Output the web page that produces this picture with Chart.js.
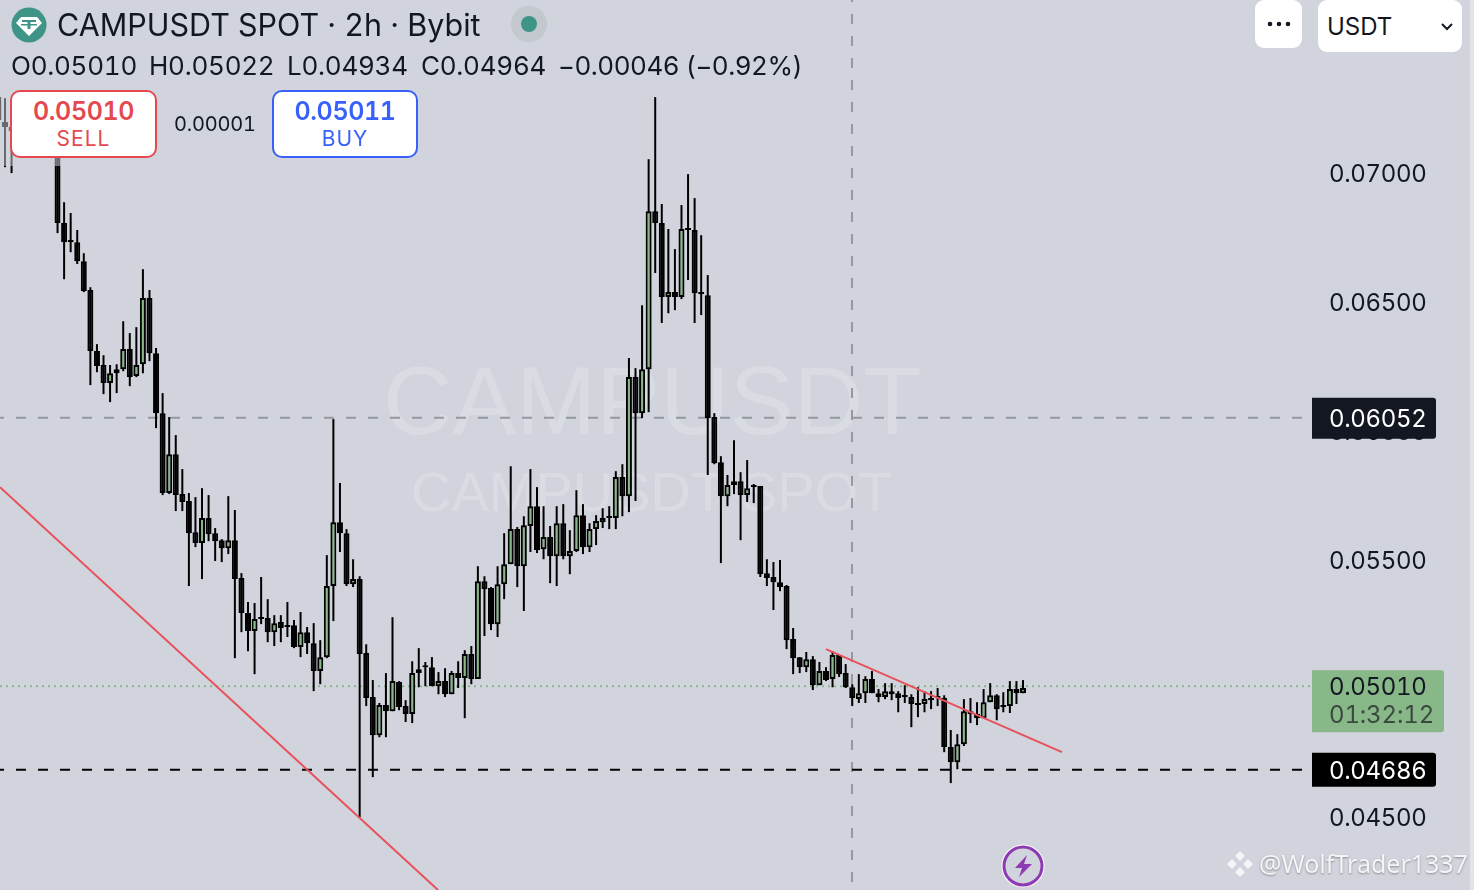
<!DOCTYPE html>
<html lang="en">
<head>
    <meta charset="UTF-8">
    <title>CAMPUSDT SPOT 2h</title>
    <script src="https://cdn.jsdelivr.net/npm/chart.js"></script>
    <style>
        html, body { margin: 0; padding: 0; background: #d1d4dc; overflow: hidden; }
        body { width: 1474px; height: 890px; position: relative; font-family: Inter, "Noto Sans", sans-serif; color: #131722; font-feature-settings: "tnum"; }
        #priceChart { position: absolute; left: 0; top: 0; }
        .abs { position: absolute; white-space: nowrap; }
        .wm { font-family: "Liberation Sans", sans-serif; color: rgba(255,255,255,0.2); }
        .trade { background: #fff; border: 2px solid; border-radius: 10px; box-sizing: border-box; text-align: center; height: 68px; top: 90px; }
        .trade .p { font-size: 25px; font-weight: 600; line-height: 26px; margin-top: 6px; letter-spacing: -0.4px; }
        .trade .s { font-size: 21px; line-height: 26px; margin-top: 2px; letter-spacing: 1px; }
        .btn { background: #fff; border-radius: 9px; }
        .ohlc { top: 49px; font-size: 26px; line-height: 34px; letter-spacing: -0.25px; }
    </style>
</head>
<body>
    <div class="abs wm" style="left:383px;top:346px;font-size:96px;line-height:110px;">CAMPUSDT</div>
    <div class="abs wm" style="left:411px;top:460px;font-size:56px;line-height:64px;">CAMPUSDT SPOT</div>

    <canvas id="priceChart" width="1474" height="890"></canvas>

    <!-- header veil, candles under it look grey -->
    <div class="abs" style="left:0;top:0;width:420px;height:166px;background:rgba(209,212,220,0.5);"></div>

    <svg class="abs" style="left:11px;top:7px;" width="36" height="36" viewBox="0 0 36 36">
        <circle cx="18" cy="18" r="17.5" fill="#3f9488"/>
        <path d="M10 10 H26 L31 16 L18 29 L5 16 Z" fill="#fff"/>
        <path d="M11 13 H25 V15 H19.5 V22 H16.5 V15 H11 Z M10 17 H26 V18.5 H10 Z" fill="#3f9488"/>
    </svg>
    <div class="abs" style="left:57px;top:6px;font-size:30.5px;line-height:38px;">CAMPUSDT SPOT · 2h · Bybit</div>
    <svg class="abs" style="left:511px;top:6px;" width="36" height="36" viewBox="0 0 36 36">
        <circle cx="18" cy="18" r="18" fill="#c3c8cf"/>
        <circle cx="18" cy="18" r="8" fill="#3f9488"/>
    </svg>
    <div class="abs ohlc" style="left:11px;">O0.05010</div>
    <div class="abs ohlc" style="left:149px;">H0.05022</div>
    <div class="abs ohlc" style="left:287px;">L0.04934</div>
    <div class="abs ohlc" style="left:421px;">C0.04964</div>
    <div class="abs ohlc" style="left:558px;letter-spacing:-0.47px;">−0.00046 (−0.92%)</div>

    <div class="abs trade" style="left:10px;width:147px;border-color:#e5484f;color:#e5484f;">
        <div class="p">0.05010</div><div class="s">SELL</div>
    </div>
    <div class="abs" style="left:174px;top:110px;font-size:20px;line-height:28px;letter-spacing:-0.2px;">0.00001</div>
    <div class="abs trade" style="left:272px;width:146px;border-color:#3861fb;color:#3861fb;">
        <div class="p">0.05011</div><div class="s">BUY</div>
    </div>

    <div class="abs btn" style="left:1255px;top:0;width:47px;height:48px;text-align:center;">
        <svg width="47" height="48"><circle cx="15" cy="24" r="2.3" fill="#131722"/><circle cx="24" cy="24" r="2.3" fill="#131722"/><circle cx="33" cy="24" r="2.3" fill="#131722"/></svg>
    </div>
    <div class="abs btn" style="left:1318px;top:0;width:144px;height:52px;">
        <div class="abs" style="left:9px;top:11px;font-size:24px;line-height:32px;">USDT</div>
        <svg class="abs" style="left:122px;top:21px;" width="14" height="12"><path d="M2 3 L7 8 L12 3" fill="none" stroke="#131722" stroke-width="2"/></svg>
    </div>

    <svg class="abs" style="left:1001px;top:844px;" width="44" height="44" viewBox="0 0 44 44">
        <circle cx="22" cy="22" r="21.5" fill="#fff"/>
        <circle cx="22" cy="22" r="19" fill="#d1d4dc" stroke="#8e3bb3" stroke-width="3"/>
        <path d="M26 11 L14 24 H21 L18 33 L31 20 H23 Z" fill="#8e3bb3"/>
    </svg>
    <svg class="abs" style="left:1226px;top:850px;" width="28" height="28" viewBox="0 0 28 28" fill="#f4f5f7">
        <path d="M14 1 L19 6 L14 11 L9 6 Z M6 9 L11 14 L6 19 L1 14 Z M22 9 L27 14 L22 19 L17 14 Z M14 17 L19 22 L14 27 L9 22 Z"/>
    </svg>
    <div class="abs" style="left:1259px;top:846px;font-family:'Noto Sans',sans-serif;font-size:25px;line-height:34px;color:#f4f5f7;text-shadow:0 1px 2px rgba(90,90,90,.6);">@WolfTrader1337</div>

    <div class="abs" style="left:1470px;top:0;width:4px;height:890px;background:#e2e4e9;"></div>

    <script>
        // candles, oldest first
        const opens = [
            0.07297,0.07200,0.07181,0.07177,0.07169,0.07157,0.07138,0.07126,0.07115,0.07091,
            0.06808,0.06742,0.06734,0.06660,0.06548,0.06311,0.06257,0.06187,0.06241,0.06241,
            0.06319,0.06214,0.06260,0.06517,0.06303,0.06070,0.05760,0.05911,0.05756,0.05729,
            0.05608,0.05566,0.05663,0.05604,0.05577,0.05546,0.05577,0.05430,0.05294,0.05224,
            0.05278,0.05275,0.05220,0.05259,0.05247,0.05247,0.05162,0.05220,0.05177,0.05069,
            0.05123,0.05399,0.05647,0.05604,0.05406,0.05426,0.05139,0.04968,0.04820,0.04937,
            0.04913,0.05026,0.04933,0.04902,0.05061,0.05088,0.05084,0.05010,0.05030,0.04979,
            0.05061,0.05042,0.05135,0.05038,0.05418,0.05391,0.05251,0.05406,0.05484,0.05620,
            0.05476,0.05632,0.05709,0.05542,0.05589,0.05515,0.05643,0.05515,0.05535,0.05674,
            0.05550,0.05620,0.05647,0.05670,0.05663,0.05822,0.05748,0.06210,0.06070,0.06241,
            0.06854,0.06808,0.06521,0.06540,0.06521,0.06789,0.06781,0.06540,0.06528,0.06055,
            0.05880,0.05748,0.05806,0.05806,0.05752,0.05791,0.05787,0.05449,0.05434,0.05414,
            0.05399,0.05193,0.05123,0.05084,0.05115,0.05014,0.05069,0.05038,0.05131,0.05061,
            0.05006,0.04960,0.04983,0.05038,0.04983,0.04968,0.04991,0.04983,0.04975,0.04968,
            0.04945,0.04941,0.04964,0.04968,0.04964,0.04774,0.04715,0.04785,0.04913,0.04902,
            0.04886,0.04948,0.04975,0.04937,0.04933,0.04999,0.04983
        ];
        const closes = [
            0.07208,0.07181,0.07165,0.07161,0.07146,0.07130,0.07118,0.07107,0.07091,0.06808,
            0.06734,0.06734,0.06660,0.06544,0.06311,0.06253,0.06187,0.06225,0.06225,0.06319,
            0.06210,0.06257,0.06517,0.06303,0.06070,0.05760,0.05911,0.05752,0.05725,0.05604,
            0.05566,0.05663,0.05600,0.05573,0.05546,0.05577,0.05426,0.05294,0.05224,0.05271,
            0.05271,0.05220,0.05255,0.05236,0.05240,0.05162,0.05220,0.05177,0.05069,0.05123,
            0.05399,0.05647,0.05604,0.05406,0.05426,0.05135,0.04964,0.04820,0.04937,0.04913,
            0.05030,0.04929,0.04902,0.05061,0.05076,0.05084,0.05010,0.05030,0.04979,0.05061,
            0.05042,0.05135,0.05038,0.05418,0.05387,0.05251,0.05406,0.05484,0.05620,0.05476,
            0.05635,0.05709,0.05538,0.05589,0.05515,0.05643,0.05515,0.05535,0.05674,0.05550,
            0.05620,0.05651,0.05663,0.05663,0.05822,0.05748,0.06210,0.06070,0.06241,0.06854,
            0.06808,0.06521,0.06540,0.06521,0.06785,0.06781,0.06536,0.06532,0.06051,0.05876,
            0.05748,0.05791,0.05791,0.05752,0.05779,0.05783,0.05445,0.05430,0.05414,0.05395,
            0.05189,0.05119,0.05084,0.05115,0.05014,0.05069,0.05034,0.05131,0.05057,0.05006,
            0.04964,0.04983,0.05038,0.04983,0.04968,0.04991,0.04979,0.04964,0.04968,0.04941,
            0.04937,0.04960,0.04956,0.04964,0.04774,0.04715,0.04785,0.04913,0.04902,0.04886,
            0.04948,0.04975,0.04921,0.04929,0.04999,0.04983,0.05003
        ];
        const highs = [
            0.07305,0.07293,0.07188,0.07266,0.07227,0.07215,0.07200,0.07188,0.07169,0.07107,
            0.06889,0.06847,0.06781,0.06691,0.06559,0.06338,0.06295,0.06257,0.06260,0.06427,
            0.06381,0.06404,0.06629,0.06548,0.06323,0.06148,0.06055,0.05985,0.05853,0.05760,
            0.05744,0.05779,0.05752,0.05624,0.05581,0.05748,0.05694,0.05449,0.05337,0.05333,
            0.05434,0.05348,0.05286,0.05286,0.05337,0.05267,0.05298,0.05240,0.05255,0.05189,
            0.05519,0.06047,0.05799,0.05620,0.05503,0.05437,0.05173,0.05034,0.04945,0.05061,
            0.05278,0.05030,0.04956,0.05107,0.05158,0.05104,0.05123,0.05065,0.05080,0.05069,
            0.05107,0.05150,0.05166,0.05476,0.05437,0.05395,0.05476,0.05604,0.05864,0.05628,
            0.05670,0.05853,0.05783,0.05709,0.05632,0.05709,0.05717,0.05616,0.05771,0.05717,
            0.05643,0.05674,0.05701,0.05709,0.05845,0.05872,0.06284,0.06245,0.06489,0.07056,
            0.07297,0.06882,0.06785,0.06707,0.06878,0.06998,0.06905,0.06761,0.06606,0.06070,
            0.05903,0.05830,0.05965,0.05841,0.05888,0.05795,0.05787,0.05503,0.05492,0.05500,
            0.05403,0.05236,0.05123,0.05143,0.05127,0.05104,0.05084,0.05146,0.05131,0.05096,
            0.05018,0.05057,0.05049,0.05069,0.04999,0.05022,0.05022,0.04991,0.05014,0.04979,
            0.05006,0.04991,0.04991,0.05003,0.04975,0.04840,0.04824,0.04960,0.04964,0.04948,
            0.04999,0.05022,0.04979,0.04987,0.05030,0.05030,0.05034
        ];
        const lows = [
            0.07200,0.07025,0.07002,0.07150,0.07130,0.07111,0.07099,0.07091,0.07083,0.06769,
            0.06590,0.06695,0.06649,0.06540,0.06179,0.06229,0.06144,0.06113,0.06148,0.06233,
            0.06175,0.06210,0.06225,0.06272,0.06012,0.05752,0.05756,0.05690,0.05690,0.05399,
            0.05550,0.05426,0.05573,0.05496,0.05492,0.05523,0.05119,0.05220,0.05146,0.05057,
            0.05251,0.05181,0.05166,0.05181,0.05201,0.05158,0.05123,0.05135,0.04991,0.05018,
            0.05119,0.05263,0.05531,0.05399,0.05395,0.04502,0.04933,0.04657,0.04812,0.04812,
            0.04913,0.04917,0.04871,0.04867,0.05006,0.05010,0.05010,0.04979,0.04968,0.04979,
            0.05003,0.04886,0.05018,0.05038,0.05205,0.05228,0.05201,0.05348,0.05484,0.05395,
            0.05302,0.05531,0.05527,0.05503,0.05410,0.05399,0.05503,0.05445,0.05531,0.05523,
            0.05531,0.05558,0.05624,0.05620,0.05620,0.05670,0.05686,0.05729,0.06051,0.06074,
            0.06614,0.06420,0.06458,0.06470,0.06513,0.06587,0.06420,0.06451,0.05830,0.05872,
            0.05488,0.05709,0.05756,0.05577,0.05725,0.05721,0.05434,0.05399,0.05306,0.05379,
            0.05154,0.05057,0.05061,0.05065,0.04995,0.05014,0.05030,0.05006,0.05046,0.05003,
            0.04933,0.04945,0.04945,0.04983,0.04948,0.04960,0.04956,0.04909,0.04945,0.04851,
            0.04890,0.04909,0.04921,0.04933,0.04754,0.04634,0.04688,0.04778,0.04867,0.04859,
            0.04886,0.04948,0.04878,0.04909,0.04906,0.04941,0.04983
        ];

        const priceTicks = [0.045, 0.05, 0.055, 0.06, 0.065, 0.07];
        const lastPrice = 0.0501;
        const maPrice = 0.06052;
        const lowPrice = 0.04686;
        // drawn lines, [bar index, price] at both ends
        const trendLong = [[0.24, 0.05783], [66.93, 0.04219]];
        const trendShort = [[126.0, 0.05154], [161.93, 0.04754]];
        const crosshairBar = 129.96;

        const UP = '#89b888', BLACK = '#000000';
        const XMIN = 0.24, XMAX = 200, YMIN = 0.04219, YMAX = 0.07674;

        const wicks = opens.map((_, i) => ({ x: i, y: [lows[i], highs[i]] }));
        const bodies = opens.map((o, i) => ({ x: i, y: [o, closes[i]] }));
        const bodyColors = opens.map((o, i) => closes[i] > o ? UP : BLACK);

        function hline(price, color, dash, offset, endBar) {
            return {
                type: 'line', order: 5, data: [{ x: XMIN, y: price }, { x: endBar, y: price }],
                borderColor: color, borderWidth: 2, borderDash: dash, borderDashOffset: offset,
                pointRadius: 0, tension: 0
            };
        }
        function segment(pts) {
            return {
                type: 'line', order: 1, data: pts.map(p => ({ x: p[0], y: p[1] })),
                borderColor: '#e8505b', borderWidth: 2, pointRadius: 0, tension: 0
            };
        }

        // price tags on the axis
        const tagsPlugin = {
            id: 'tags',
            beforeDraw(chart) {
                chart.ctx.letterSpacing = '-0.35px';
                // nudge tick text down, Inter sits a bit high
                chart.scales.y.getLabelItems().forEach(item => { item.options.translation[1] += 1.5; });
            },
            afterDraw(chart) {
                const ctx = chart.ctx, y = chart.scales.y;
                const tag = (price, up, down, w, bg) => {
                    const c = y.getPixelForValue(price);
                    ctx.fillStyle = bg;
                    ctx.beginPath();
                    ctx.roundRect(1312, c - up, w, up + down, [0, 3, 3, 0]);
                    ctx.fill();
                };
                ctx.save();
                ctx.font = '24px Inter';
                ctx.letterSpacing = '-0.35px';
                ctx.textBaseline = 'middle';
                ctx.textAlign = 'left';
                tag(maPrice, 20, 21, 124, '#131722');
                ctx.fillStyle = '#fff';
                ctx.fillText(maPrice.toFixed(5), 1329, y.getPixelForValue(maPrice) + 2);
                tag(lowPrice, 17, 17, 124, '#000');
                ctx.fillStyle = '#fff';
                ctx.fillText(lowPrice.toFixed(5), 1329, y.getPixelForValue(lowPrice) + 2);
                tag(lastPrice, 16, 46, 132, UP);
                ctx.fillStyle = '#131722';
                ctx.fillText(lastPrice.toFixed(5), 1329, y.getPixelForValue(lastPrice) + 2);
                ctx.letterSpacing = '-0.15px';
                ctx.fillStyle = '#3a4a3e';
                ctx.fillText('01:32:12', 1329, y.getPixelForValue(lastPrice) + 30);
                ctx.restore();
            }
        };

        new Chart(document.getElementById('priceChart').getContext('2d'), {
            type: 'bar',
            data: {
                datasets: [
                    hline(maPrice, '#9598a1', [10, 12], 6, 198.93),
                    hline(lowPrice, '#000', [10, 12], 6, 198.5),
                    hline(lastPrice, UP, [2, 4], 0, XMAX),
                    {
                        type: 'line', order: 5,
                        data: [{ x: crosshairBar, y: YMAX }, { x: crosshairBar, y: 0.0425 }],
                        borderColor: '#9598a1', borderWidth: 2, borderDash: [10, 12], borderDashOffset: 8,
                        pointRadius: 0
                    },
                    { order: 3, data: wicks, backgroundColor: BLACK, barThickness: 2, inflateAmount: 0 },
                    {
                        order: 2, data: bodies, backgroundColor: bodyColors, borderColor: BLACK,
                        borderWidth: 2, borderSkipped: false, barThickness: 6, minBarLength: 2, inflateAmount: 0
                    },
                    segment(trendLong),
                    segment(trendShort)
                ]
            },
            options: {
                responsive: false,
                animation: false,
                events: [],
                layout: { padding: 0, autoPadding: false },
                datasets: { bar: { grouped: false } },
                plugins: { legend: { display: false }, tooltip: { enabled: false } },
                scales: {
                    x: { type: 'linear', min: XMIN, max: XMAX, offset: false, display: false },
                    y: {
                        type: 'linear', position: 'right', min: YMIN, max: YMAX,
                        grid: { display: false, drawTicks: false },
                        border: { display: false },
                        afterFit(axis) { axis.width = 162; axis.paddingTop = 0; axis.paddingBottom = 0; },
                        afterBuildTicks(axis) { axis.ticks = priceTicks.map(v => ({ value: v })); },
                        ticks: {
                            padding: 17, color: '#131722', autoSkip: false, maxRotation: 0,
                            font: { family: 'Inter', size: 24 },
                            callback: v => v.toFixed(5)
                        }
                    }
                }
            },
            plugins: [tagsPlugin]
        });
    </script>
</body>
</html>
